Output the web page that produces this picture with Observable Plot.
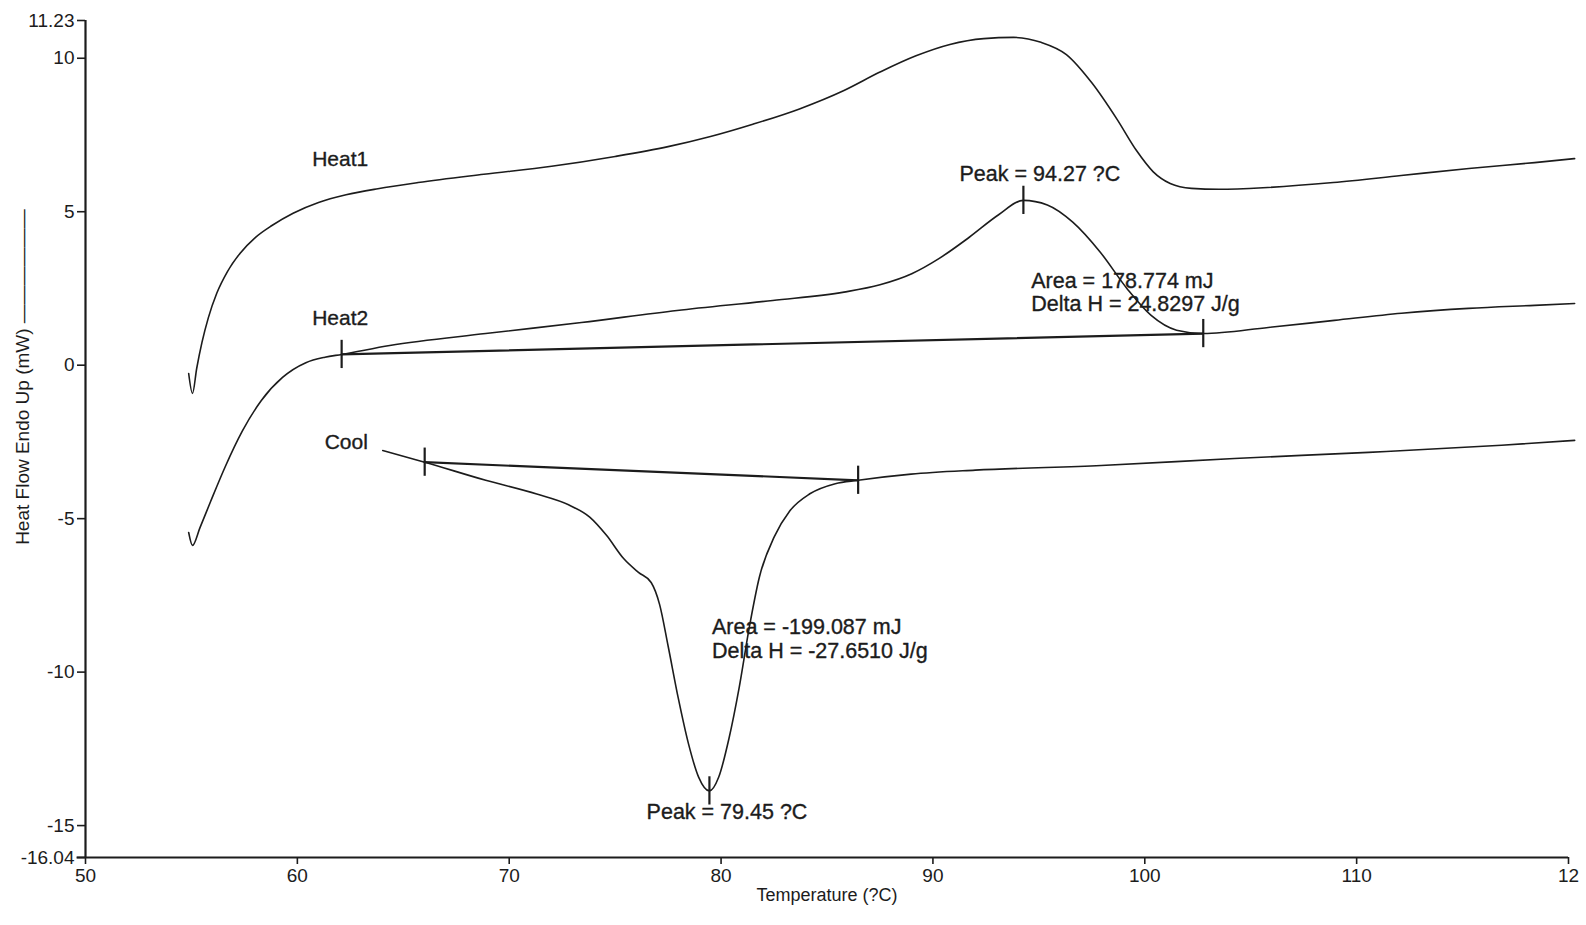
<!DOCTYPE html>
<html>
<head>
<meta charset="utf-8">
<script src="https://cdn.jsdelivr.net/npm/d3@7"></script>
<script src="https://cdn.jsdelivr.net/npm/@observablehq/plot@0.6"></script>
<style>
  html, body { margin: 0; padding: 0; background: #ffffff; }
  #chart svg { display: block; }
</style>
</head>
<body>
<div id="chart"></div>
<script>
// DSC thermogram: heat flow (mW, endo up) against temperature (°C)

// First heating run
const heat1Temp = [54.87, 55.05, 55.25, 55.50, 55.80, 56.20, 56.70, 57.30, 58.00, 58.80, 59.80, 61.00, 62.30, 63.80, 65.70, 68.80, 72.00, 75.00, 77.50, 79.50, 81.50, 83.70, 85.80, 87.50, 89.20, 90.80, 92.40, 93.80, 95.10, 96.30, 97.50, 98.70, 99.60, 100.40, 101.20, 102.20, 103.50, 105.80, 108.90, 112.10, 115.30, 118.40, 120.29];
const heat1Flow = [-0.27, -0.92, -0.10, 0.75, 1.55, 2.35, 3.05, 3.65, 4.15, 4.55, 4.95, 5.30, 5.55, 5.75, 5.95, 6.22, 6.48, 6.80, 7.12, 7.45, 7.85, 8.35, 8.95, 9.55, 10.08, 10.45, 10.64, 10.68, 10.52, 10.12, 9.20, 8.00, 7.00, 6.30, 5.92, 5.76, 5.73, 5.79, 5.95, 6.18, 6.41, 6.60, 6.73];

// Second heating run
const heat2Temp = [54.87, 55.05, 55.40, 55.90, 56.60, 57.40, 58.30, 59.30, 60.40, 61.30, 62.09, 64.36, 68.89, 73.41, 77.92, 82.44, 85.80, 87.50, 89.00, 90.30, 91.70, 93.10, 94.27, 95.40, 96.60, 97.90, 99.20, 100.30, 101.50, 102.76, 105.83, 108.95, 112.12, 115.28, 118.40, 120.29];
const heat2Flow = [-5.45, -5.87, -5.30, -4.45, -3.30, -2.15, -1.15, -0.40, 0.08, 0.26, 0.35, 0.64, 1.03, 1.39, 1.78, 2.11, 2.38, 2.62, 2.98, 3.48, 4.16, 4.90, 5.37, 5.22, 4.66, 3.68, 2.46, 1.62, 1.14, 1.03, 1.23, 1.46, 1.69, 1.85, 1.95, 2.01];

// Cooling run
const coolTemp = [64.03, 66.01, 68.89, 71.30, 72.80, 73.80, 74.60, 75.40, 76.10, 76.70, 77.10, 77.50, 77.98, 78.46, 78.94, 79.45, 79.89, 80.37, 80.85, 81.33, 81.81, 82.52, 83.24, 84.19, 85.39, 86.47, 88.97, 92.00, 97.94, 104.23, 110.56, 116.84, 120.29];
const coolFlow = [-2.78, -3.16, -3.75, -4.20, -4.55, -4.95, -5.55, -6.30, -6.75, -7.08, -7.80, -9.15, -10.85, -12.33, -13.42, -13.87, -13.42, -12.17, -10.52, -8.55, -6.90, -5.58, -4.75, -4.19, -3.86, -3.75, -3.55, -3.42, -3.27, -3.04, -2.84, -2.61, -2.45];

// Integration limits (baseline end points) of the two transitions
const heat2LimitTemp = [62.09, 102.76];
const heat2LimitFlow = [0.35, 1.03];
const coolLimitTemp = [66.01, 86.47];
const coolLimitFlow = [-3.16, -3.75];

// Peak positions
const peakTemp = [94.27, 79.45];
const peakFlow = [5.37, -13.87];

// Run names and integration results
const runNames = ["Heat1", "Heat2", "Cool"];
const runNameTemp = [60.70, 60.70, 61.29];
const runNameFlow = [6.70, 1.52, -2.52];

const areaValues = ["178.774", "-199.087"];
const deltaHValues = ["24.8297", "-27.6510"];
const resultTemp = [94.64, 79.57];
const resultFlow = [2.73, -8.54];
const resultLineGap = [0.73, 0.78];

const peakLabelTemp = [95.05, 80.28];
const peakLabelFlow = [6.21, -14.57];

// Axis ticks
const xTicks = [50, 60, 70, 80, 90, 100, 110, 120];
const xTickLabels = ["50", "60", "70", "80", "90", "100", "110", "12"];
const yTicks = [11.23, 10, 5, 0, -5, -10, -15, -16.04];
const yTickLabels = ["11.23", "10", "5", "0", "-5", "-10", "-15", "-16.04"];

// ---- tables built from the arrays above ----
const curve = (name, temps, flows) => temps.map((t, i) => ({run: name, t, f: flows[i]}));
const traces = [
  ...curve("Heat1", heat1Temp, heat1Flow),
  ...curve("Heat2", heat2Temp, heat2Flow),
  ...curve("Cool", coolTemp, coolFlow)
];
const baselines = [
  ...curve("Heat2", heat2LimitTemp, heat2LimitFlow),
  ...curve("Cool", coolLimitTemp, coolLimitFlow)
];
const markers = [
  ...heat2LimitTemp.map((t, i) => ({t, f: heat2LimitFlow[i]})),
  ...coolLimitTemp.map((t, i) => ({t, f: coolLimitFlow[i]})),
  ...peakTemp.map((t, i) => ({t, f: peakFlow[i]}))
];
const nameLabels = runNames.map((s, i) => ({text: s, t: runNameTemp[i], f: runNameFlow[i]}));
const resultLabels = areaValues.flatMap((a, i) => [
  {text: `Area = ${a} mJ`, t: resultTemp[i], f: resultFlow[i]},
  {text: `Delta H = ${deltaHValues[i]} J/g`, t: resultTemp[i], f: resultFlow[i] - resultLineGap[i]}
]);
const peakLabels = peakTemp.map((p, i) => ({text: `Peak = ${p.toFixed(2)} ?C`, t: peakLabelTemp[i], f: peakLabelFlow[i]}));

const xLabelOf = new Map(xTicks.map((v, i) => [v, xTickLabels[i]]));
const yLabelOf = new Map(yTicks.map((v, i) => [v, yTickLabels[i]]));

const ink = "#1c1c1c";
const font = "Liberation Sans, Arial, Helvetica, sans-serif";
const markerHalf = 0.46; // half-height of the limit/peak markers, in mW
const heavy = {fill: ink, stroke: ink, strokeWidth: 0.35};

const chart = Plot.plot({
  width: 1586,
  height: 925,
  marginLeft: 85,
  marginRight: 18,
  marginTop: 20,
  marginBottom: 68,
  style: {fontFamily: font, color: ink, background: "#ffffff", overflow: "visible"},
  x: {domain: [50, 120]},
  y: {domain: [-16.04, 11.23]},
  marks: [
    Plot.axisX({ticks: xTicks, tickFormat: d => xLabelOf.get(d), tickSize: 7, tickPadding: 4, fontSize: 19, label: null, stroke: ink, strokeWidth: 1.6}),
    Plot.axisY({ticks: yTicks, tickFormat: d => yLabelOf.get(d), tickSize: 8, tickPadding: 3, fontSize: 19, label: null, stroke: ink, strokeWidth: 1.6}),
    Plot.ruleY([-16.04], {x1: 49.6, x2: 120, stroke: ink, strokeWidth: 2.2}),
    Plot.ruleX([50], {y1: -16.04, y2: 11.23, stroke: ink, strokeWidth: 2.2}),
    Plot.line(traces, {x: "t", y: "f", z: "run", curve: "monotone-x", stroke: ink, strokeWidth: 1.6}),
    Plot.line(baselines, {x: "t", y: "f", z: "run", stroke: ink, strokeWidth: 2.2}),
    Plot.ruleX(markers, {x: "t", y1: d => d.f - markerHalf, y2: d => d.f + markerHalf, stroke: ink, strokeWidth: 2.2}),
    Plot.text(nameLabels, {x: "t", y: "f", text: "text", textAnchor: "start", fontSize: 21, ...heavy}),
    Plot.text(resultLabels, {x: "t", y: "f", text: "text", textAnchor: "start", fontSize: 21.5, ...heavy}),
    Plot.text(peakLabels, {x: "t", y: "f", text: "text", textAnchor: "middle", fontSize: 21.5, ...heavy}),
    Plot.text(["Temperature (?C)"], {frameAnchor: "bottom", dy: 43, fontSize: 18, fill: ink}),
    Plot.text(["Heat Flow Endo Up (mW) \u2014\u2014\u2014\u2014\u2014\u2014"], {frameAnchor: "left", textAnchor: "middle", rotate: -90, dx: -63, dy: -62, fontSize: 19, fill: ink})
  ]
});

document.getElementById("chart").appendChild(chart);
</script>
</body>
</html>
